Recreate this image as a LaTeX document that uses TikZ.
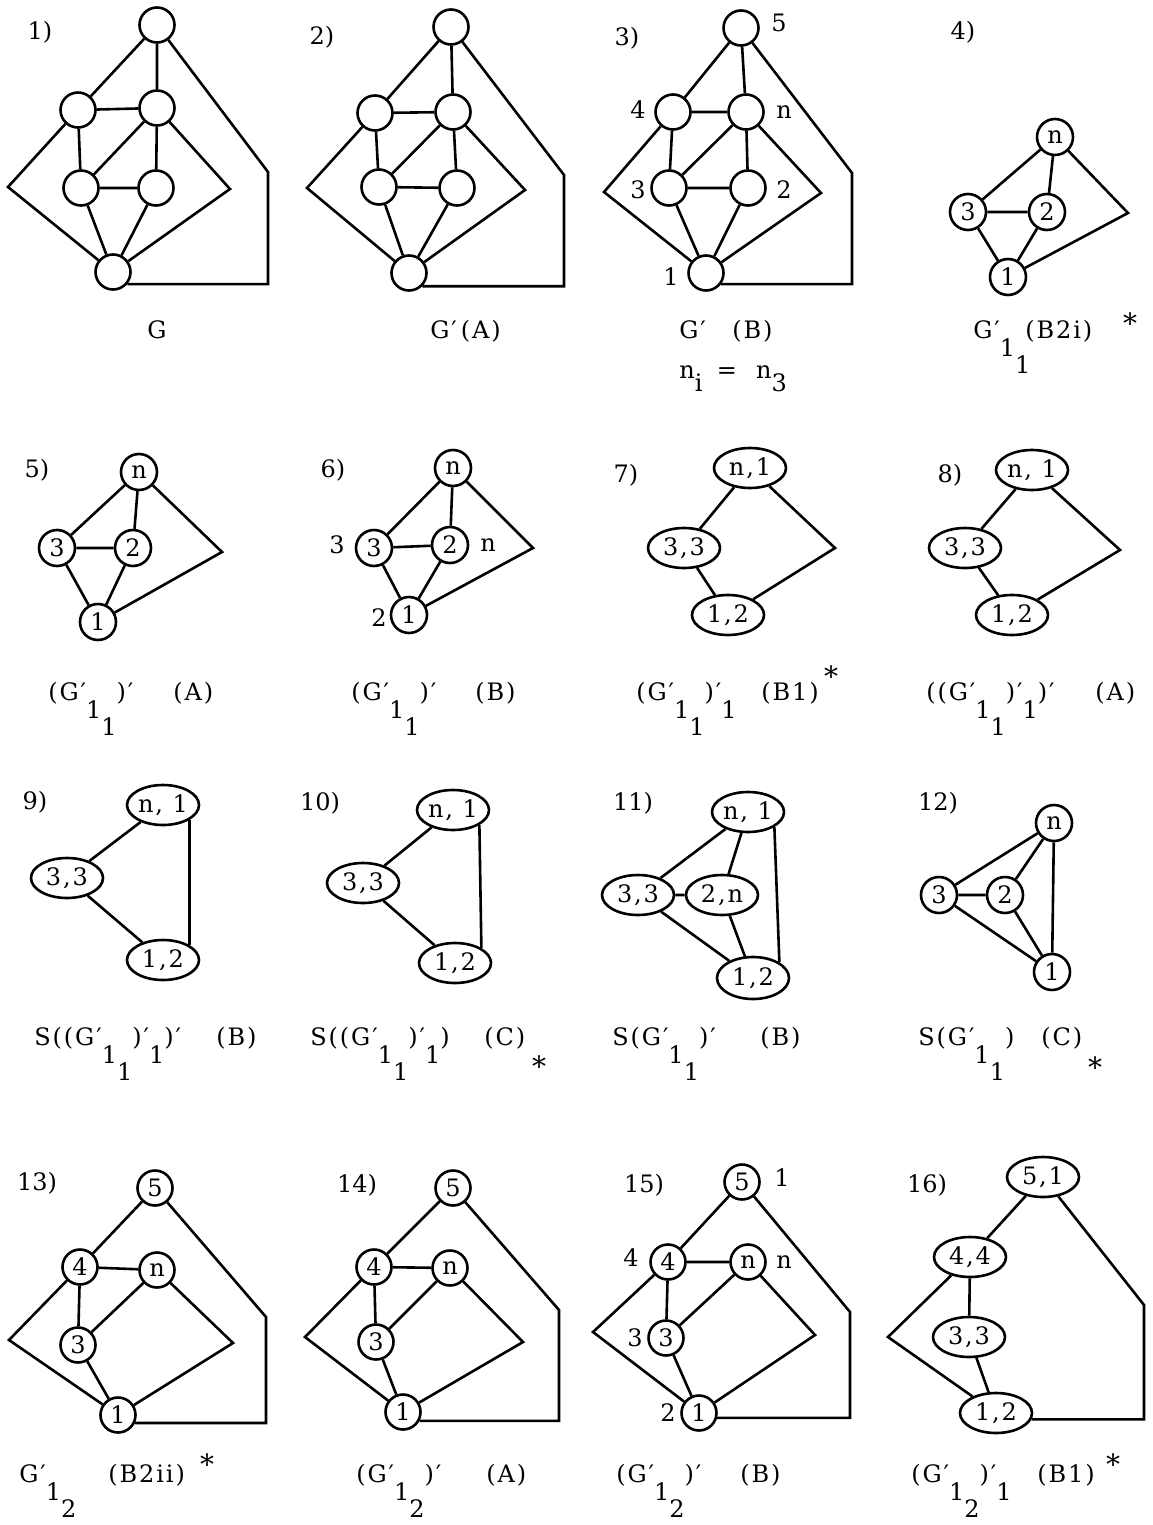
\documentclass[tikz,border=0pt]{standalone}
\usepackage{fontspec}
\setmainfont{DejaVu Serif}
\newfontfamily\capfont[LetterSpace=8]{DejaVu Serif}
\usetikzlibrary{shapes.geometric}
% G with prime, a subscript and a sub-subscript
\newcommand\Gs[2]{G′\raisebox{-9pt}{#1}\raisebox{-17.5pt}{#2}}
% prime and a subscript
\newcommand\ps[1]{′\raisebox{-9pt}{#1}}
\newcommand\lo[1]{\raisebox{-6.5pt}{#1}}
\tikzset{
  cv/.style={circle, draw, minimum size=17.5pt, inner sep=0pt, font=\fontsize{12}{12}\capfont},
  cw/.style={cv, minimum size=18pt},
  ev/.style={ellipse, draw, minimum width=36pt, minimum height=20pt, inner sep=0pt, font=\fontsize{12}{12}\capfont},
  tx/.style={inner sep=0pt, font=\fontsize{12}{14}\capfont},
  plab/.style={inner sep=0pt, font=\fontsize{12}{14}\selectfont},
  capt/.style={tx, anchor=base west},
  star/.style={inner sep=0pt, font=\fontsize{14}{14}\selectfont},
}
\begin{document}
\begin{tikzpicture}[x=0.5pt,y=-0.5pt,line width=1.3pt]
\fill[white] (0,0) rectangle (1152,1525);
\useasboundingbox (0,0) rectangle (1152,1525);

% ---------- Panel 1
\node[plab] (l1) at (40,32) {1)};
\node[cv] (aT) at (157,25) {};
\node[cv] (a4) at (78,110) {};
\node[cv] (aN) at (157,108) {};
\node[cv] (a3) at (81,188) {};
\node[cv] (a2) at (156,188) {};
\node[cv] (a1) at (113,272) {};
\coordinate (aL) at (8,187);
\coordinate (aR) at (230,189);
\coordinate (aO) at (268,172);
\draw (aT) -- (a4) (aT) -- (aN) (a4) -- (aN) (a4) -- (a3) (aN) -- (a3) (aN) -- (a2) (a3) -- (a2) (a3) -- (a1) (a2) -- (a1);
\draw (a4) -- (aL) -- (a1);
\draw (aN) -- (aR) -- (a1);
\draw (a1.-40) -| (aO) -- (aT);
\node[tx, anchor=base] (c1) at (157,338) {G};

% ---------- Panel 2
\node[plab] (l2) at (322,37) {2)};
\node[cv] (bT) at (451,27) {};
\node[cv] (b4) at (375,113) {};
\node[cv] (bN) at (453,112) {};
\node[cv] (b3) at (379,187) {};
\node[cv] (b2) at (457,188) {};
\node[cv] (b1) at (409,273) {};
\coordinate (bL) at (307,188);
\coordinate (bR) at (525,190);
\coordinate (bO) at (564,175);
\draw (bT) -- (b4) (bT) -- (bN) (b4) -- (bN) (b4) -- (b3) (bN) -- (b3) (bN) -- (b2) (b3) -- (b2) (b3) -- (b1) (b2) -- (b1);
\draw (b4) -- (bL) -- (b1);
\draw (bN) -- (bR) -- (b1);
\draw (b1.-45) -| (bO) -- (bT);
\node[capt] (c2) at (429,338) {G′\,(A)};

% ---------- Panel 3
\node[plab] (l3) at (627,38) {3)};
\node[cv] (cT) at (741,28) {};
\node[cv] (c4) at (673,112) {};
\node[cv] (cN) at (746,112) {};
\node[cv] (c3) at (669,188) {};
\node[cv] (c2) at (748,188) {};
\node[cv] (c1) at (706,273) {};
\coordinate (cL) at (604,192);
\coordinate (cR) at (821,193);
\coordinate (cO) at (852,173);
\draw (cT) -- (c4) (cT) -- (cN) (c4) -- (cN) (c4) -- (c3) (cN) -- (c3) (cN) -- (c2) (c3) -- (c2) (c3) -- (c1) (c2) -- (c1);
\draw (c4) -- (cL) -- (c1);
\draw (cN) -- (cR) -- (c1);
\draw (c1.-36) -| (cO) -- (cT);
\node[tx] (s3a) at (779,23) {5};
\node[tx] (s3b) at (638,110) {4};
\node[tx] (s3c) at (784,112) {n};
\node[tx] (s3d) at (638,190) {3};
\node[tx] (s3e) at (784,190) {2};
\node[tx] (s3f) at (671,277) {1};
\node[capt] (cap3) at (678,338) {G′};
\node[capt] (cap3x) at (731,338) {(B)};
\node[capt] (cap3b) at (678,378) {n\lo{i}\hspace{0.6em}=\hspace{0.8em}n\lo{3}};

% ---------- Panel 4
\node[plab] (l4) at (963,32) {4)};
\node[cw] (dN) at (1055,137) {n};
\node[cw] (d3) at (968,212) {3};
\node[cw] (d2) at (1047,212) {2};
\node[cw] (d1) at (1008,277) {1};
\coordinate (dR) at (1128,213);
\draw (dN) -- (d3) (dN) -- (d2) (d3) -- (d2) (d3) -- (d1) (d2) -- (d1);
\draw (dN) -- (dR) -- (d1);
\node[capt] (cap4) at (972,338) {\Gs{1}{1}};
\node[capt] (cap4x) at (1024,338) {(B2i)};
\node[star] (st4) at (1130,323) {*};

% ---------- Panel 5
\node[plab] (l5) at (37,470) {5)};
\node[cw] (eN) at (139,472) {n};
\node[cw] (e3) at (57,548) {3};
\node[cw] (e2) at (133,548) {2};
\node[cw] (e1) at (98,622) {1};
\coordinate (eR) at (222,552);
\draw (eN) -- (e3) (eN) -- (e2) (e3) -- (e2) (e3) -- (e1) (e2) -- (e1);
\draw (eN) -- (eR) -- (e1);
\node[capt] (cap5) at (47,700) {(\Gs{1}{1})′};
\node[capt] (cap5x) at (172,700) {(A)};

% ---------- Panel 6
\node[plab] (l6) at (333,470) {6)};
\node[cw] (fN) at (453,468) {n};
\node[cw] (f3) at (374,548) {3};
\node[cw] (f2) at (450,545) {2};
\node[cw] (f1) at (409,615) {1};
\coordinate (fR) at (533,548);
\draw (fN) -- (f3) (fN) -- (f2) (f3) -- (f2) (f3) -- (f1) (f2) -- (f1);
\draw (fN) -- (fR) -- (f1);
\node[tx] (s6a) at (337,545) {3};
\node[tx] (s6b) at (488,545) {n};
\node[tx] (s6c) at (379,618) {2};
\node[capt] (cap6) at (350,700) {(\Gs{1}{1})′};
\node[capt] (cap6x) at (474,700) {(B)};

% ---------- Panel 7
\node[plab] (l7) at (626,475) {7)};
\node[ev] (gA) at (750,468) {n,1};
\node[ev] (gB) at (684,548) {3,3};
\node[ev] (gC) at (728,615) {1,2};
\coordinate (gR) at (835,548);
\draw (gA) -- (gB) (gB) -- (gC);
\draw (gA) -- (gR) -- (gC);
\node[capt] (cap7) at (635,700) {(\Gs{1}{1})\ps{1}};
\node[capt] (cap7x) at (760,700) {(B1)};
\node[star] (st7) at (831,676) {*};

% ---------- Panel 8
\node[plab] (l8) at (950,475) {8)};
\node[ev] (hA) at (1032,470) {n, 1};
\node[ev] (hB) at (965,548) {3,3};
\node[ev] (hC) at (1012,615) {1,2};
\coordinate (hR) at (1120,550);
\draw (hA) -- (hB) (hB) -- (hC);
\draw (hA) -- (hR) -- (hC);
\node[capt] (cap8) at (925,700) {((\Gs{1}{1})\ps{1})′};
\node[capt] (cap8x) at (1094,700) {(A)};

% ---------- Panel 9
\node[plab] (l9) at (35,802) {9)};
\node[ev] (iA) at (163,805) {n, 1};
\node[ev] (iB) at (67,878) {3,3};
\node[ev] (iC) at (163,960) {1,2};
\draw (iA) -- (iB) (iB) -- (iC);
\draw (iA.south east) -- (iC.north east);
\node[capt] (cap9) at (33,1045) {S((\Gs{1}{1})\ps{1})′};
\node[capt] (cap9x) at (215,1045) {(B)};

% ---------- Panel 10
\node[plab] (l10) at (320,803) {10)};
\node[ev] (jA) at (453,810) {n, 1};
\node[ev] (jB) at (363,883) {3,3};
\node[ev] (jC) at (455,963) {1,2};
\draw (jA) -- (jB) (jB) -- (jC);
\draw (jA.south east) -- (jC.north east);
\node[capt] (cap10) at (309,1045) {S((\Gs{1}{1})\ps{1})};
\node[capt] (cap10x) at (483,1045) {(C)};
\node[star] (st10) at (539,1066) {*};

% ---------- Panel 11
\node[plab] (l11) at (633,803) {11)};
\node[ev] (kA) at (748,812) {n, 1};
\node[ev] (kB) at (638,895) {3,3};
\node[ev] (kC) at (722,895) {2,n};
\node[ev, minimum height=21pt] (kD) at (753,978) {1,2};
\draw (kA) -- (kB) (kA) -- (kC) (kB) -- (kC) (kB) -- (kD) (kC) -- (kD);
\draw (kA.south east) -- (kD.north east);
\node[capt] (cap11) at (611,1045) {S(\Gs{1}{1})′};
\node[capt] (cap11x) at (759,1045) {(B)};

% ---------- Panel 12
\node[plab] (l12) at (938,803) {12)};
\node[cw] (lN) at (1054,823) {n};
\node[cw] (l3) at (939,895) {3};
\node[cw] (l2) at (1005,895) {2};
\node[cw] (l1b) at (1052,972) {1};
\draw (lN) -- (l3) (lN) -- (l2) (lN) -- (l1b) (l3) -- (l2) (l3) -- (l1b) (l2) -- (l1b);
\node[capt] (cap12) at (917,1045) {S(\Gs{1}{1})};
\node[capt] (cap12x) at (1040,1045) {(C)};
\node[star] (st12) at (1095,1067) {*};

% ---------- Panel 13
\node[plab] (l13) at (37,1183) {13)};
\node[cv] (mT) at (155,1188) {5};
\node[cv] (m4) at (80,1267) {4};
\node[cv] (mN) at (157,1270) {n};
\node[cv] (m3) at (78,1345) {3};
\node[cv] (m1) at (118,1415) {1};
\coordinate (mL) at (9,1340);
\coordinate (mR) at (233,1343);
\coordinate (mO) at (266,1317);
\draw (mT) -- (m4) (m4) -- (mN) (m4) -- (m3) (mN) -- (m3) (m3) -- (m1);
\draw (m4) -- (mL) -- (m1);
\draw (mN) -- (mR) -- (m1);
\draw (m1.-25) -| (mO) -- (mT);
\node[capt] (cap13) at (18,1482) {\Gs{1}{2}};
\node[capt] (cap13x) at (107,1482) {(B2ii)};
\node[star] (st13) at (207,1464) {*};

% ---------- Panel 14
\node[plab] (l14) at (357,1185) {14)};
\node[cv] (nT) at (453,1188) {5};
\node[cv] (n4) at (374,1267) {4};
\node[cv] (nN) at (450,1268) {n};
\node[cv] (n3) at (376,1342) {3};
\node[cv] (n1) at (403,1412) {1};
\coordinate (nL) at (305,1337);
\coordinate (nR) at (523,1342);
\coordinate (nO) at (559,1310);
\draw (nT) -- (n4) (n4) -- (nN) (n4) -- (n3) (nN) -- (n3) (n3) -- (n1);
\draw (n4) -- (nL) -- (n1);
\draw (nN) -- (nR) -- (n1);
\draw (n1.-28) -| (nO) -- (nT);
\node[capt] (cap14) at (355,1482) {(\Gs{1}{2})′};
\node[capt] (cap14x) at (485,1482) {(A)};

% ---------- Panel 15
\node[plab] (l15) at (644,1185) {15)};
\node[cv] (oT) at (742,1182) {5};
\node[cv] (o4) at (668,1262) {4};
\node[cv] (oN) at (748,1262) {n};
\node[cv] (o3) at (666,1338) {3};
\node[cv] (o1) at (699,1413) {1};
\coordinate (oL) at (593,1332);
\coordinate (oR) at (815,1335);
\coordinate (oO) at (850,1312);
\draw (oT) -- (o4) (o4) -- (oN) (o4) -- (o3) (oN) -- (o3) (o3) -- (o1);
\draw (o4) -- (oL) -- (o1);
\draw (oN) -- (oR) -- (o1);
\draw (o1.-15) -| (oO) -- (oT);
\node[tx] (s15a) at (782,1178) {1};
\node[tx] (s15b) at (631,1258) {4};
\node[tx] (s15c) at (784,1262) {n};
\node[tx] (s15d) at (635,1338) {3};
\node[tx] (s15e) at (668,1413) {2};
\node[capt] (cap15) at (615,1482) {(\Gs{1}{2})′};
\node[capt] (cap15x) at (739,1482) {(B)};

% ---------- Panel 16
\node[plab] (l16) at (927,1185) {16)};
\node[ev] (pA) at (1043,1177) {5,1};
\node[ev] (pB) at (970,1257) {4,4};
\node[ev] (pC) at (969,1337) {3,3};
\node[ev] (pD) at (996,1413) {1,2};
\coordinate (pL) at (888,1337);
\coordinate (pO) at (1144,1305);
\draw (pA) -- (pB) (pB) -- (pC) (pC) -- (pD);
\draw (pB) -- (pL) -- (pD);
\draw (pD.-10) -| (pO) -- (pA);
\node[capt] (cap16) at (910,1482) {(\Gs{1}{2})\ps{1}};
\node[capt] (cap16x) at (1036,1482) {(B1)};
\node[star] (st16) at (1113,1464) {*};
\end{tikzpicture}
\end{document}
